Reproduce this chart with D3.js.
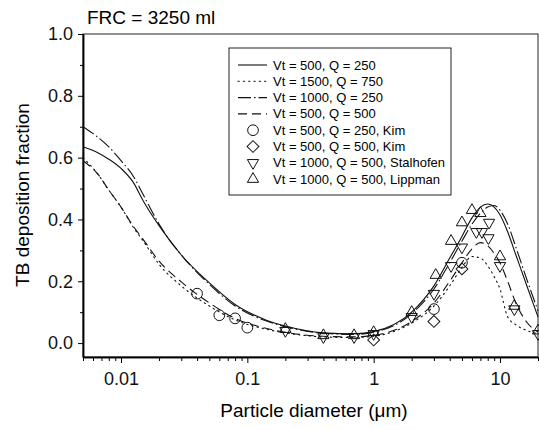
<!DOCTYPE html>
<html>
<head>
<meta charset="utf-8">
<script src="https://cdn.jsdelivr.net/npm/d3@7"></script>
<style>
  body { margin: 0; background: #fff; }
  svg { font-family: "Liberation Sans", Arial, Helvetica, sans-serif; }
  .line { fill: none; stroke: #111; stroke-width: 1.1; }
  .marker { fill: none; stroke: #111; stroke-width: 1; }
</style>
</head>
<body>
<div id="vis"></div>
<script>
// chart frame
const FRAME_WIDTH = 539;
const FRAME_HEIGHT = 430;
const MARGINS = {left: 83, right: 1, top: 34, bottom: 73};

// particle diameters (um) where the model curves are read
const DIAM = [0.005, 0.0066, 0.008, 0.01, 0.0125, 0.015, 0.02, 0.03, 0.05, 0.08, 0.14, 0.2,
              0.4, 0.7, 1, 2, 3, 4, 5, 6, 7, 8, 9, 10, 11.5, 13.5, 16.5, 20];

// model curves (TB deposition fraction)
const VT500_Q250 = [0.635, 0.615, 0.595, 0.565, 0.52, 0.46, 0.38, 0.285, 0.195, 0.125, 0.075, 0.055,
                    0.033, 0.03, 0.037, 0.10, 0.185, 0.275, 0.345, 0.405, 0.44, 0.45, 0.44, 0.415, 0.36, 0.28, 0.18, 0.085];
const VT1500_Q750 = [0.60, 0.545, 0.495, 0.44, 0.375, 0.33, 0.255, 0.185, 0.12, 0.075, 0.045, 0.033,
                     0.02, 0.018, 0.022, 0.065, 0.12, 0.185, 0.245, 0.28, 0.275, 0.25, 0.215, 0.175, 0.085, 0.058, 0.04, 0.03];
const VT1000_Q250 = [0.70, 0.665, 0.635, 0.59, 0.54, 0.48, 0.385, 0.285, 0.19, 0.12, 0.072, 0.053,
                     0.032, 0.028, 0.035, 0.095, 0.175, 0.26, 0.33, 0.385, 0.42, 0.44, 0.445, 0.43, 0.385, 0.305, 0.2, 0.105];
const VT500_Q500 = [0.59, 0.545, 0.495, 0.44, 0.378, 0.335, 0.265, 0.198, 0.13, 0.08, 0.048, 0.035,
                    0.022, 0.02, 0.025, 0.07, 0.13, 0.20, 0.26, 0.305, 0.325, 0.315, 0.29, 0.26, 0.2, 0.125, 0.065, 0.035];

// measured data
const KIM_250_D = [0.04, 0.06, 0.08, 0.1, 3, 5];
const KIM_250_Y = [0.16, 0.09, 0.08, 0.05, 0.11, 0.26];
const KIM_500_D = [1, 3, 5];
const KIM_500_Y = [0.01, 0.07, 0.24];
const STAL_D = [0.2, 0.4, 0.7, 1, 2, 3, 4.1, 5, 6.5, 7.2, 8.2, 8.1, 10, 13, 20];
const STAL_Y = [0.04, 0.02, 0.02, 0.03, 0.085, 0.16, 0.25, 0.31, 0.36, 0.36, 0.39, 0.34, 0.25, 0.11, 0.03];
const LIPP_D = [0.2, 0.4, 0.7, 1, 2, 3.1, 4.1, 5, 6, 7, 10, 13, 20];
const LIPP_Y = [0.045, 0.025, 0.025, 0.035, 0.10, 0.22, 0.33, 0.39, 0.43, 0.42, 0.28, 0.12, 0.04];

// ticks
const X_TICKS = [0.01, 0.1, 1, 10];
const Y_TICKS = [0.0, 0.2, 0.4, 0.6, 0.8, 1.0];
const Y_MINOR = [0.1, 0.3, 0.5, 0.7, 0.9];

const LEGEND_LABELS = ["Vt = 500, Q = 250", "Vt = 1500, Q = 750", "Vt = 1000, Q = 250", "Vt = 500, Q = 500",
                       "Vt = 500, Q = 250, Kim", "Vt = 500, Q = 500, Kim",
                       "Vt = 1000, Q = 500, Stalhofen", "Vt = 1000, Q = 500, Lippman"];

const VIS_WIDTH = FRAME_WIDTH - MARGINS.left - MARGINS.right;
const VIS_HEIGHT = FRAME_HEIGHT - MARGINS.top - MARGINS.bottom;

const FRAME = d3.select("#vis")
  .append("svg")
    .attr("width", FRAME_WIDTH)
    .attr("height", FRAME_HEIGHT);

const X_SCALE = d3.scaleLog().domain([0.005, 20]).range([MARGINS.left, MARGINS.left + VIS_WIDTH]);
const Y_SCALE = d3.scaleLinear().domain([-0.045, 1.0]).range([MARGINS.top + VIS_HEIGHT, MARGINS.top]);

// minor x ticks at 2..9 of each decade
const X_MINOR = [];
[0.001, 0.01, 0.1, 1, 10].forEach((dec) => {
  for (let k = 2; k <= 9; k++) {
    const v = +(dec * k).toPrecision(3);
    if (v >= 0.005 && v <= 20) X_MINOR.push(v);
  }
});

// frame box
FRAME.append("rect")
  .attr("x", MARGINS.left).attr("y", MARGINS.top)
  .attr("width", VIS_WIDTH).attr("height", VIS_HEIGHT)
  .attr("fill", "none").attr("stroke", "#222").attr("stroke-width", 1);

// axes
const xAxis = FRAME.append("g")
  .attr("transform", "translate(0," + (MARGINS.top + VIS_HEIGHT) + ")")
  .call(d3.axisBottom(X_SCALE).tickValues(X_TICKS).tickFormat(d3.format("")).tickSize(6).tickSizeOuter(0))
  .attr("font-size", "18px");
xAxis.selectAll("text").attr("dy", "1.05em").attr("fill", "#111").attr("font-family", null);

FRAME.append("g")
  .attr("transform", "translate(0," + (MARGINS.top + VIS_HEIGHT) + ")")
  .call(d3.axisBottom(X_SCALE).tickValues(X_MINOR).tickFormat("").tickSize(4).tickSizeOuter(0));

const yAxis = FRAME.append("g")
  .attr("transform", "translate(" + MARGINS.left + ",0)")
  .call(d3.axisLeft(Y_SCALE).tickValues(Y_TICKS).tickFormat(d3.format(".1f")).tickSize(5).tickSizeOuter(0))
  .attr("font-size", "18px");
yAxis.selectAll("text").attr("x", -10).attr("fill", "#111").attr("font-family", null);

FRAME.append("g")
  .attr("transform", "translate(" + MARGINS.left + ",0)")
  .call(d3.axisLeft(Y_SCALE).tickValues(Y_MINOR).tickFormat("").tickSize(3).tickSizeOuter(0));

FRAME.selectAll(".domain").attr("stroke-width", 1.5);

// axis titles
FRAME.append("text")
  .attr("x", 87).attr("y", 24)
  .attr("font-size", "19px")
  .text("FRC = 3250 ml");

FRAME.append("text")
  .attr("x", 314).attr("y", 417)
  .attr("text-anchor", "middle")
  .attr("font-size", "19px")
  .text("Particle diameter (\u03bcm)");

FRAME.append("text")
  .attr("transform", "translate(29," + 195 + ") rotate(-90)")
  .attr("text-anchor", "middle")
  .attr("font-size", "19px")
  .text("TB deposition fraction");

// model curves
const SERIES = [
  {vals: VT500_Q250, dash: null},
  {vals: VT1500_Q750, dash: "1.3,4"},
  {vals: VT1000_Q250, dash: "13,3,1.5,3"},
  {vals: VT500_Q500, dash: "9,5"}
];

const lineGen = d3.line()
  .x((d) => X_SCALE(d[0]))
  .y((d) => Y_SCALE(d[1]))
  .curve(d3.curveMonotoneX);

SERIES.forEach((s) => {
  FRAME.append("path")
    .datum(DIAM.map((d, i) => [d, s.vals[i]]))
    .attr("class", "line")
    .attr("stroke-dasharray", s.dash)
    .attr("stroke-linecap", s.dash === "1.3,4" ? "round" : "butt")
    .attr("d", lineGen);
});

// markers
const circleSym = d3.symbol().type(d3.symbolCircle).size(90);
const diamondSym = d3.symbol().type(d3.symbolSquare).size(70);
const triSym = d3.symbol().type(d3.symbolTriangle).size(55);

const MARKERS = [
  {d: KIM_250_D, y: KIM_250_Y, path: circleSym(), rot: 0},
  {d: KIM_500_D, y: KIM_500_Y, path: diamondSym(), rot: 45},
  {d: STAL_D, y: STAL_Y, path: triSym(), rot: 180},
  {d: LIPP_D, y: LIPP_Y, path: triSym(), rot: 0}
];

MARKERS.forEach((m) => {
  FRAME.append("g").selectAll("path")
    .data(m.d.map((d, i) => [d, m.y[i]]))
    .enter()
    .append("path")
      .attr("class", "marker")
      .attr("d", m.path)
      .attr("transform", (d) => "translate(" + X_SCALE(d[0]) + "," + Y_SCALE(d[1]) + ") rotate(" + m.rot + ")");
});

// legend
const LEG = FRAME.append("g");
LEG.append("rect")
  .attr("x", 229).attr("y", 48).attr("width", 222).attr("height", 147)
  .attr("fill", "#fff").attr("stroke", "#222").attr("stroke-width", 1);

LEGEND_LABELS.forEach((label, i) => {
  const y = 65 + i * 16.3;
  if (i < 4) {
    LEG.append("line")
      .attr("x1", 238).attr("x2", 267).attr("y1", y).attr("y2", y)
      .attr("class", "line")
      .attr("stroke-dasharray", SERIES[i].dash)
      .attr("stroke-linecap", i === 1 ? "round" : "butt");
  } else {
    const m = MARKERS[i - 4];
    LEG.append("path")
      .attr("class", "marker")
      .attr("d", m.path)
      .attr("transform", "translate(253," + y + ") rotate(" + m.rot + ")");
  }
  LEG.append("text")
    .attr("x", 273).attr("y", y + 4.5)
    .attr("font-size", "13px")
    .text(label);
});
</script>
</body>
</html>
